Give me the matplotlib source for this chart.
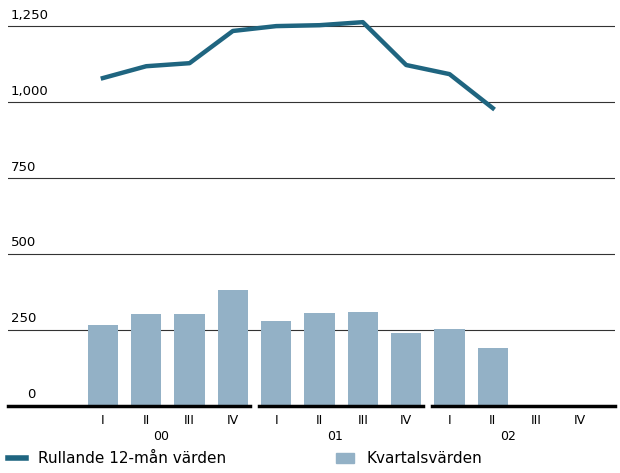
import matplotlib.pyplot as plt
from matplotlib.patches import Patch
from matplotlib.lines import Line2D

quarters = ["I", "II", "III", "IV"] * 3
years = ["00", "01", "02"]
kvartal = [266, 303, 303, 382, 280, 306, 309, 240, 253, 191]
rullande = [1079, 1118, 1128, 1234, 1250, 1253, 1263, 1122, 1092, 980]

fig = plt.figure(figsize=(6.2, 4.73), dpi=100)
ax = fig.add_axes([8/620, 1-406/473, 607/620, 396/473])
x = list(range(len(quarters)))
ax.bar(x[:len(kvartal)], kvartal, width=0.7, color="#93b1c6", zorder=2)
ax.plot(x[:len(rullande)], rullande, color="#1f6580", lw=3.2, zorder=3)
ax.set_xlim(-2.19, 11.82)
ax.set_ylim(0, 1303)
for v in [250, 500, 750, 1000, 1250]:
    ax.axhline(v, color="#333333", lw=0.8, zorder=1)
    ax.text(-2.12, v + 15, f"{v:,}", fontsize=9.5, va="bottom", ha="left")
ax.text(-1.75, 15, "0", fontsize=9.5, va="bottom", ha="left")
for a, b in [(-2.19, 3.4), (3.6, 7.4), (7.6, 11.82)]:
    ax.plot([a, b], [0, 0], color="black", lw=2.5, clip_on=False, zorder=4)
for i, q in enumerate(quarters):
    ax.text(i, -25, q, ha="center", va="top", fontsize=9)
for j, y in enumerate(years):
    ax.text(4 * j + 1.35, -80, y, ha="center", va="top", fontsize=9)
ax.axis("off")
handles = [Line2D([0], [0], color="#1f6580", lw=4), Patch(color="#93b1c6")]
fig.legend(handles[:1], ["Rullande 12-mån värden"], loc="lower left",
           bbox_to_anchor=(-0.01, -0.015), frameon=False, fontsize=11, handlelength=1.2)
fig.legend(handles[1:], ["Kvartalsvärden"], loc="lower left",
           bbox_to_anchor=(0.52, -0.015), frameon=False, fontsize=11, handlelength=1.2)
fig.savefig("out.png")
